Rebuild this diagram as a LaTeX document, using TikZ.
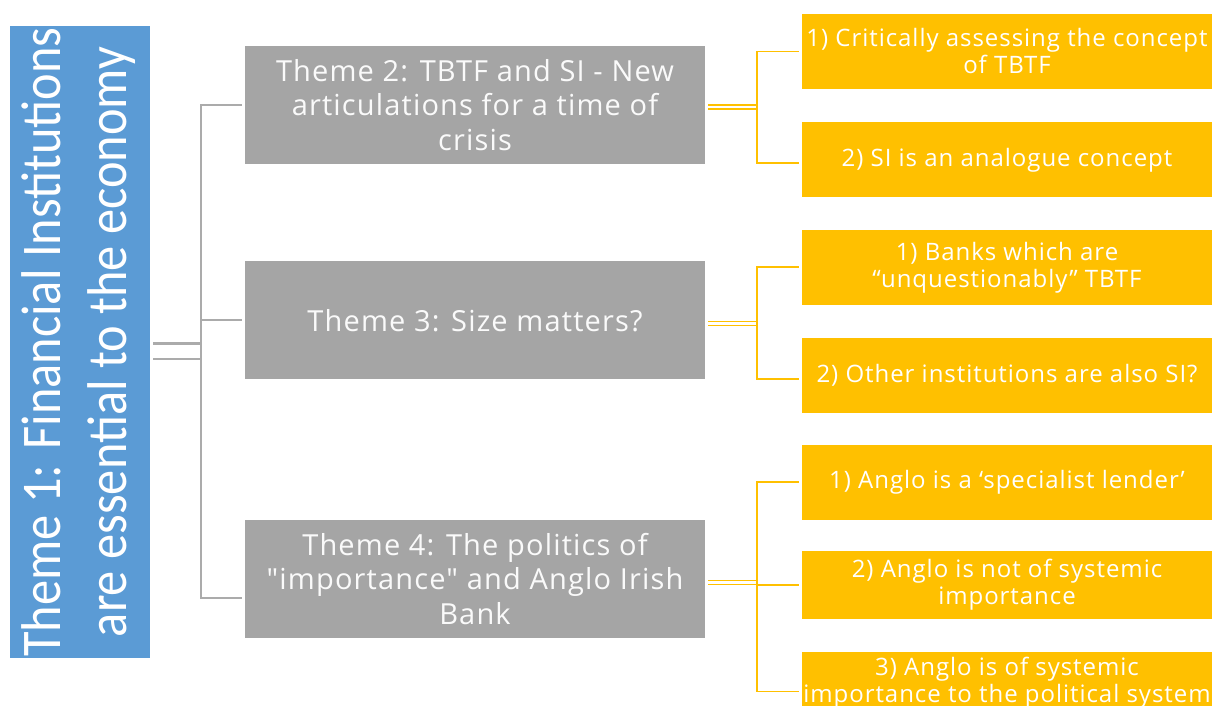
\documentclass[tikz,border=0pt]{standalone}
\usepackage{fontspec}
\usepackage{graphicx}
\usetikzlibrary{positioning,calc}
\setmainfont{Open Sans}[LetterSpace=4.0,Ligatures=TeXOff]
\newfontfamily\narrowfont{Carlito}[FakeStretch=0.9]
\definecolor{themeblue}{HTML}{5B9BD5}
\definecolor{themegray}{HTML}{A5A5A5}
\definecolor{themegold}{HTML}{FFC000}
\definecolor{linkgray}{HTML}{ABABAB}

\begin{document}
\begin{tikzpicture}[
  x=1pt, y=-1pt,
  node distance=33pt,
  root/.style={fill=themeblue,text=white,minimum width=140pt,minimum height=631pt,
               inner sep=0pt,font=\narrowfont\fontsize{56}{66}\selectfont},
  theme/.style={fill=themegray,text=white!96!gray,minimum width=460pt,minimum height=118pt,
                inner sep=0pt,align=center,font=\fontsize{29}{34.5}\selectfont},
  sub/.style={fill=themegold,text=white,minimum width=410pt,minimum height=75pt,
              inner sep=0pt,align=center,font=\fontsize{24}{27}\selectfont},
  glink/.style={draw=linkgray,line width=2pt},
  gdouble/.style={draw=linkgray,line width=2.5pt,double=white,double distance=13pt},
  ylink/.style={draw=themegold,line width=1.8pt},
  ydouble/.style={draw=themegold,line width=1.5pt,double=white,double distance=2.5pt}
]
\useasboundingbox (0,0) rectangle (1213,706);
\clip (0,0) rectangle (1213,706);

% root theme, set sideways
\node[root] (root) at (80,342) {\rotatebox{90}{\begin{tabular}{@{}c@{}}
  Theme 1: Financial Institutions\\are essential to the economy\end{tabular}}};

% themes 2--4
\node[theme] (t2) at (475,105) {Theme 2: TBTF and SI - New\\articulations for a time of\\crisis};
\node[theme,below=97pt of t2] (t3) {Theme 3: Size matters?};
\node[theme,below=140pt of t3] (t4) {Theme 4: The politics of\\"importance" and Anglo Irish\\Bank};

% sub-themes
\node[sub] (s21) at (1007,51.5) {1) Critically assessing the concept\\of TBTF};
\node[sub,below=of s21] (s22) {2) SI is an analogue concept};
\node[sub,below=32pt of s22] (s31) {1) Banks which are\\“unquestionably” TBTF};
\node[sub,below=of s31] (s32) {2) Other institutions are also SI?};
\node[sub,below=31pt of s32] (s41) {1) Anglo is a ‘specialist lender’};
\node[sub,below=31pt of s41,minimum height=68pt] (s42) {2) Anglo is not of systemic\\importance};
\node[sub,below=of s42,minimum height=60pt] (s43) {3) Anglo is of systemic\\importance to the political system};

% grey tree from the root
\coordinate (rj) at (201,351);
\draw[gdouble,shorten <=3pt] (root.east |- rj) -- (rj);
\draw[glink,shorten >=3pt] (rj) |- (t2.west);
\draw[glink,shorten >=3pt] (rj) |- (t3.west);
\draw[glink,shorten >=3pt] (rj) |- ([yshift=-19pt]t4.west);

% gold trees from each theme
\coordinate (j2) at ($(t2.east)+(52,2)$);
\draw[ydouble,shorten <=3pt] (t2.east |- j2) -- (j2);
\draw[ylink,shorten >=3pt] (j2) |- (s21.west);
\draw[ylink,shorten >=3pt] (j2) |- ([yshift=-3pt]s22.west);

\coordinate (j3) at ($(t3.east)+(52,3)$);
\draw[ydouble,shorten <=3pt] (t3.east |- j3) -- (j3);
\draw[ylink,shorten >=3pt] (j3) |- (s31.west);
\draw[ylink,shorten >=3pt] (j3) |- ([yshift=-3pt]s32.west);

\coordinate (j4) at ($(t4.east)+(52,3.5)$);
\draw[ydouble,shorten <=3pt] (t4.east |- j4) -- (j4);
\draw[ylink,shorten >=3pt] (j4) |- (s41.west);
\draw[ylink,shorten >=3pt] (j4) |- (s42.west);
\draw[ylink,shorten >=3pt] (j4) |- ([yshift=-9pt]s43.west);
\end{tikzpicture}
\end{document}
